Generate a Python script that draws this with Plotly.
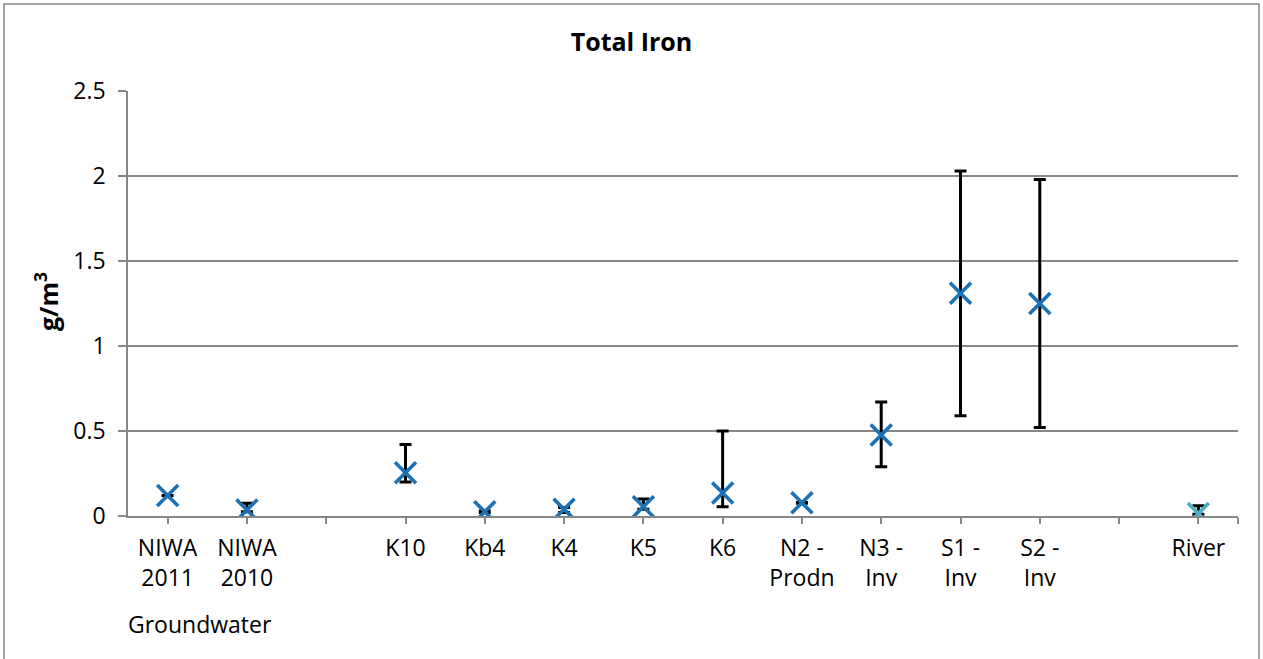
import plotly.graph_objects as go

# ---- data ----
categories = ["NIWA<br>2011", "NIWA<br>2010", "", "K10", "Kb4", "K4", "K5", "K6",
              "N2 -<br>Prodn", "N3 -<br>Inv", "S1 -<br>Inv", "S2 -<br>Inv", "", "River"]
groundwater_mean = [0.12, 0.035, None, 0.255, 0.025, 0.04, 0.055, 0.135, 0.078, 0.476, 1.31, 1.25, None, None]
groundwater_high = [0.12, 0.075, None, 0.42, 0.03, 0.05, 0.10, 0.50, 0.08, 0.67, 2.03, 1.98, None, None]
groundwater_low  = [0.12, 0.025, None, 0.20, 0.02, 0.02, 0.04, 0.055, 0.075, 0.29, 0.59, 0.52, None, None]
river_mean = [None] * 13 + [0.015]
river_high = [None] * 13 + [0.06]
river_low  = [None] * 13 + [0.01]
y_ticks = [0, 0.5, 1, 1.5, 2, 2.5]

FONT = "Open Sans"
FS = 23
x_pos = list(range(len(categories)))
label_pos = [i for i, c in enumerate(categories) if c]
label_txt = [c for c in categories if c]


def err(mean, hi, lo):
    plus = [None if m is None else h - m for m, h in zip(mean, hi)]
    minus = [None if m is None else m - l for m, l in zip(mean, lo)]
    return plus, minus


fig = go.Figure()
gp, gm = err(groundwater_mean, groundwater_high, groundwater_low)
fig.add_trace(go.Scatter(
    x=x_pos, y=groundwater_mean, mode="markers", name="Groundwater",
    marker=dict(symbol="x-thin-open", size=21, line=dict(width=3.6, color="#1B71B3"), color="#1B71B3"),
    error_y=dict(type="data", array=gp, arrayminus=gm, color="black", thickness=3, width=6, visible=True),
    showlegend=False,
))
rp, rm = err(river_mean, river_high, river_low)
fig.add_trace(go.Scatter(
    x=x_pos, y=river_mean, mode="markers", name="River",
    marker=dict(symbol="x-thin-open", size=21, line=dict(width=3.6, color="#4BADC8"), color="#4BADC8"),
    error_y=dict(type="data", array=rp, arrayminus=rm, color="black", thickness=3, width=6, visible=True),
    showlegend=False,
))

n = len(categories)
fig.update_layout(
    width=1263, height=659,
    margin=dict(l=128, r=25, t=91, b=143),
    paper_bgcolor="white", plot_bgcolor="white",
    font=dict(family=FONT, size=FS, color="black"),
    title=dict(text="<b>Total Iron</b>", x=0.5, xref="container", xanchor="center",
               y=1 - 42 / 659, yref="container", yanchor="middle",
               font=dict(family=FONT, size=25, color="black")),
    xaxis=dict(range=[-0.5, n - 0.5], tickmode="array", tickvals=label_pos, ticktext=label_txt,
               showgrid=False, zeroline=False, showline=True, linecolor="#878787", linewidth=1.5,
               ticks="outside", ticklen=6, tickcolor="#878787", tickwidth=1.5,
               ticklabelstandoff=5,
               minor=dict(tickmode="array", tickvals=x_pos + [n - 0.5], ticks="outside",
                          ticklen=6, tickcolor="#878787", tickwidth=1.5, showgrid=False),
               tickfont=dict(family=FONT, size=FS, color="black")),
    yaxis=dict(range=[0, 2.5], tickvals=y_ticks, ticktext=["0", "0.5", "1", "1.5", "2", "2.5"],
               showgrid=True, gridcolor="#878787", gridwidth=1.5, zeroline=False,
               showline=True, linecolor="#878787", linewidth=1.5,
               ticks="outside", ticklen=8, tickcolor="#878787", tickwidth=1.5,
               ticklabelstandoff=8,
               tickfont=dict(family=FONT, size=FS, color="black")),
    annotations=[
        dict(text="<b>g/m<sup>3</sup></b>", textangle=-90, xref="paper", yref="paper",
             x=(46 - 128) / 1110, y=(516 - 302) / 425, xanchor="center", yanchor="middle",
             showarrow=False, font=dict(family=FONT, size=25, color="black")),
        dict(text="Groundwater", xref="paper", yref="paper",
             x=(200 - 128) / 1110, y=(516 - 624) / 425, xanchor="center", yanchor="middle",
             showarrow=False, font=dict(family=FONT, size=FS, color="black")),
    ],
    shapes=[dict(type="rect", xref="paper", yref="paper",
                 x0=(4 - 128) / 1110, x1=(1259 - 128) / 1110,
                 y0=(516 - 662) / 425, y1=(516 - 4) / 425,
                 line=dict(color="#898989", width=1.5), fillcolor="rgba(0,0,0,0)", layer="below")],
)

fig.write_html("out.html")
